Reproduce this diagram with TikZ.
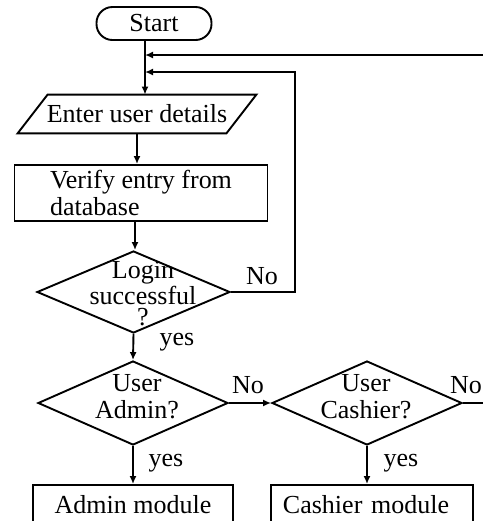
\documentclass[tikz,border=0pt]{standalone}
\usepackage{fontspec}
\setmainfont{Liberation Serif}
\usetikzlibrary{shapes.geometric,arrows.meta,calc}

\begin{document}
\begin{tikzpicture}[x=0.5pt,y=-0.5pt,
  every node/.style={font=\fontsize{13}{13.5}\selectfont},
  line/.style={line width=0.95pt},
  arr/.style={line, -{Latex[length=4pt,width=3.5pt]}},
  box/.style={draw, line width=0.95pt, rectangle, inner sep=0pt},
  dia/.style={draw, line width=0.95pt, diamond, inner sep=0pt},
  lbl/.style={inner sep=0pt}
]
\useasboundingbox (0,0) rectangle (483,521);

% process nodes
\node[box, rounded corners=8pt, minimum width=57.5pt, minimum height=16.5pt] (start) at (154,23.5) {Start};
\node[inner sep=0pt, minimum width=104pt, minimum height=19pt] (enter) at (137,114) {Enter user details};
\draw[line] ($(enter.north west)+(15,0)$) -- ($(enter.north east)+(15,0)$)
  -- ($(enter.south east)+(-15,0)$) -- ($(enter.south west)+(-15,0)$) -- cycle;
\node[box, minimum width=126.5pt, minimum height=28pt, align=left] (verify) at (141,193) {Verify entry from\\database};

% decisions
\node[dia, minimum width=96.5pt, minimum height=41pt] (login) at (133.5,292) {};
\node[lbl, align=center, font=\fontsize{13}{10.5}\selectfont] (logintxt) at (143,294) {Login\\successful\\?};
\node[dia, minimum width=95pt, minimum height=42pt] (admin) at (133,403) {};
\node[lbl, align=center] (admintxt) at (137,397) {User\\Admin?};
\node[dia, minimum width=95pt, minimum height=42pt] (cashier) at (367,403) {};
\node[lbl, align=center] (cashiertxt) at (366,397) {User\\Cashier?};

% modules
\node[box, minimum width=100pt, minimum height=20pt] (adminmod) at (133,505) {Admin module};
\node[box, minimum height=20pt, text width=89pt, inner xsep=6pt, align=left] (cashmod) at (372,505) {Cashier module};

% junctions on the main line
\coordinate (j1) at (145,55);
\coordinate (j2) at (145,72);
\coordinate (loop) at (295,72);
\coordinate (edge1) at (483,55);
\coordinate (edge2) at (483,403);

% connectors
\draw[arr] (start.south -| j1) -- (enter.north -| j1);
\draw[arr] (edge1) -- (j1);
\draw[arr] (login.east) -| (loop) -- (j2);
\draw[arr] (enter.south) -- (enter.south |- verify.north);
\draw[arr] ([xshift=0.75pt]login.north |- verify.south) -- ([xshift=0.75pt]login.north);
\draw[arr] (login.south) -- (admin.north);
\draw[arr] (admin.east) -- (cashier.west);
\draw[arr] (admin.south) -- (adminmod.north);
\draw[arr] (cashier.south) -- (cashier.south |- cashmod.north);
\draw[line] (cashier.east) -- (edge2);

% branch labels
\node[lbl] (no1) at (262,276) {No};
\node[lbl] (no2) at (248,385) {No};
\node[lbl] (no3) at (466,385) {No};
\node[lbl] (yes1) at (177,342) {yes};
\node[lbl] (yes2) at (166,463) {yes};
\node[lbl] (yes3) at (401,463) {yes};
\end{tikzpicture}
\end{document}
